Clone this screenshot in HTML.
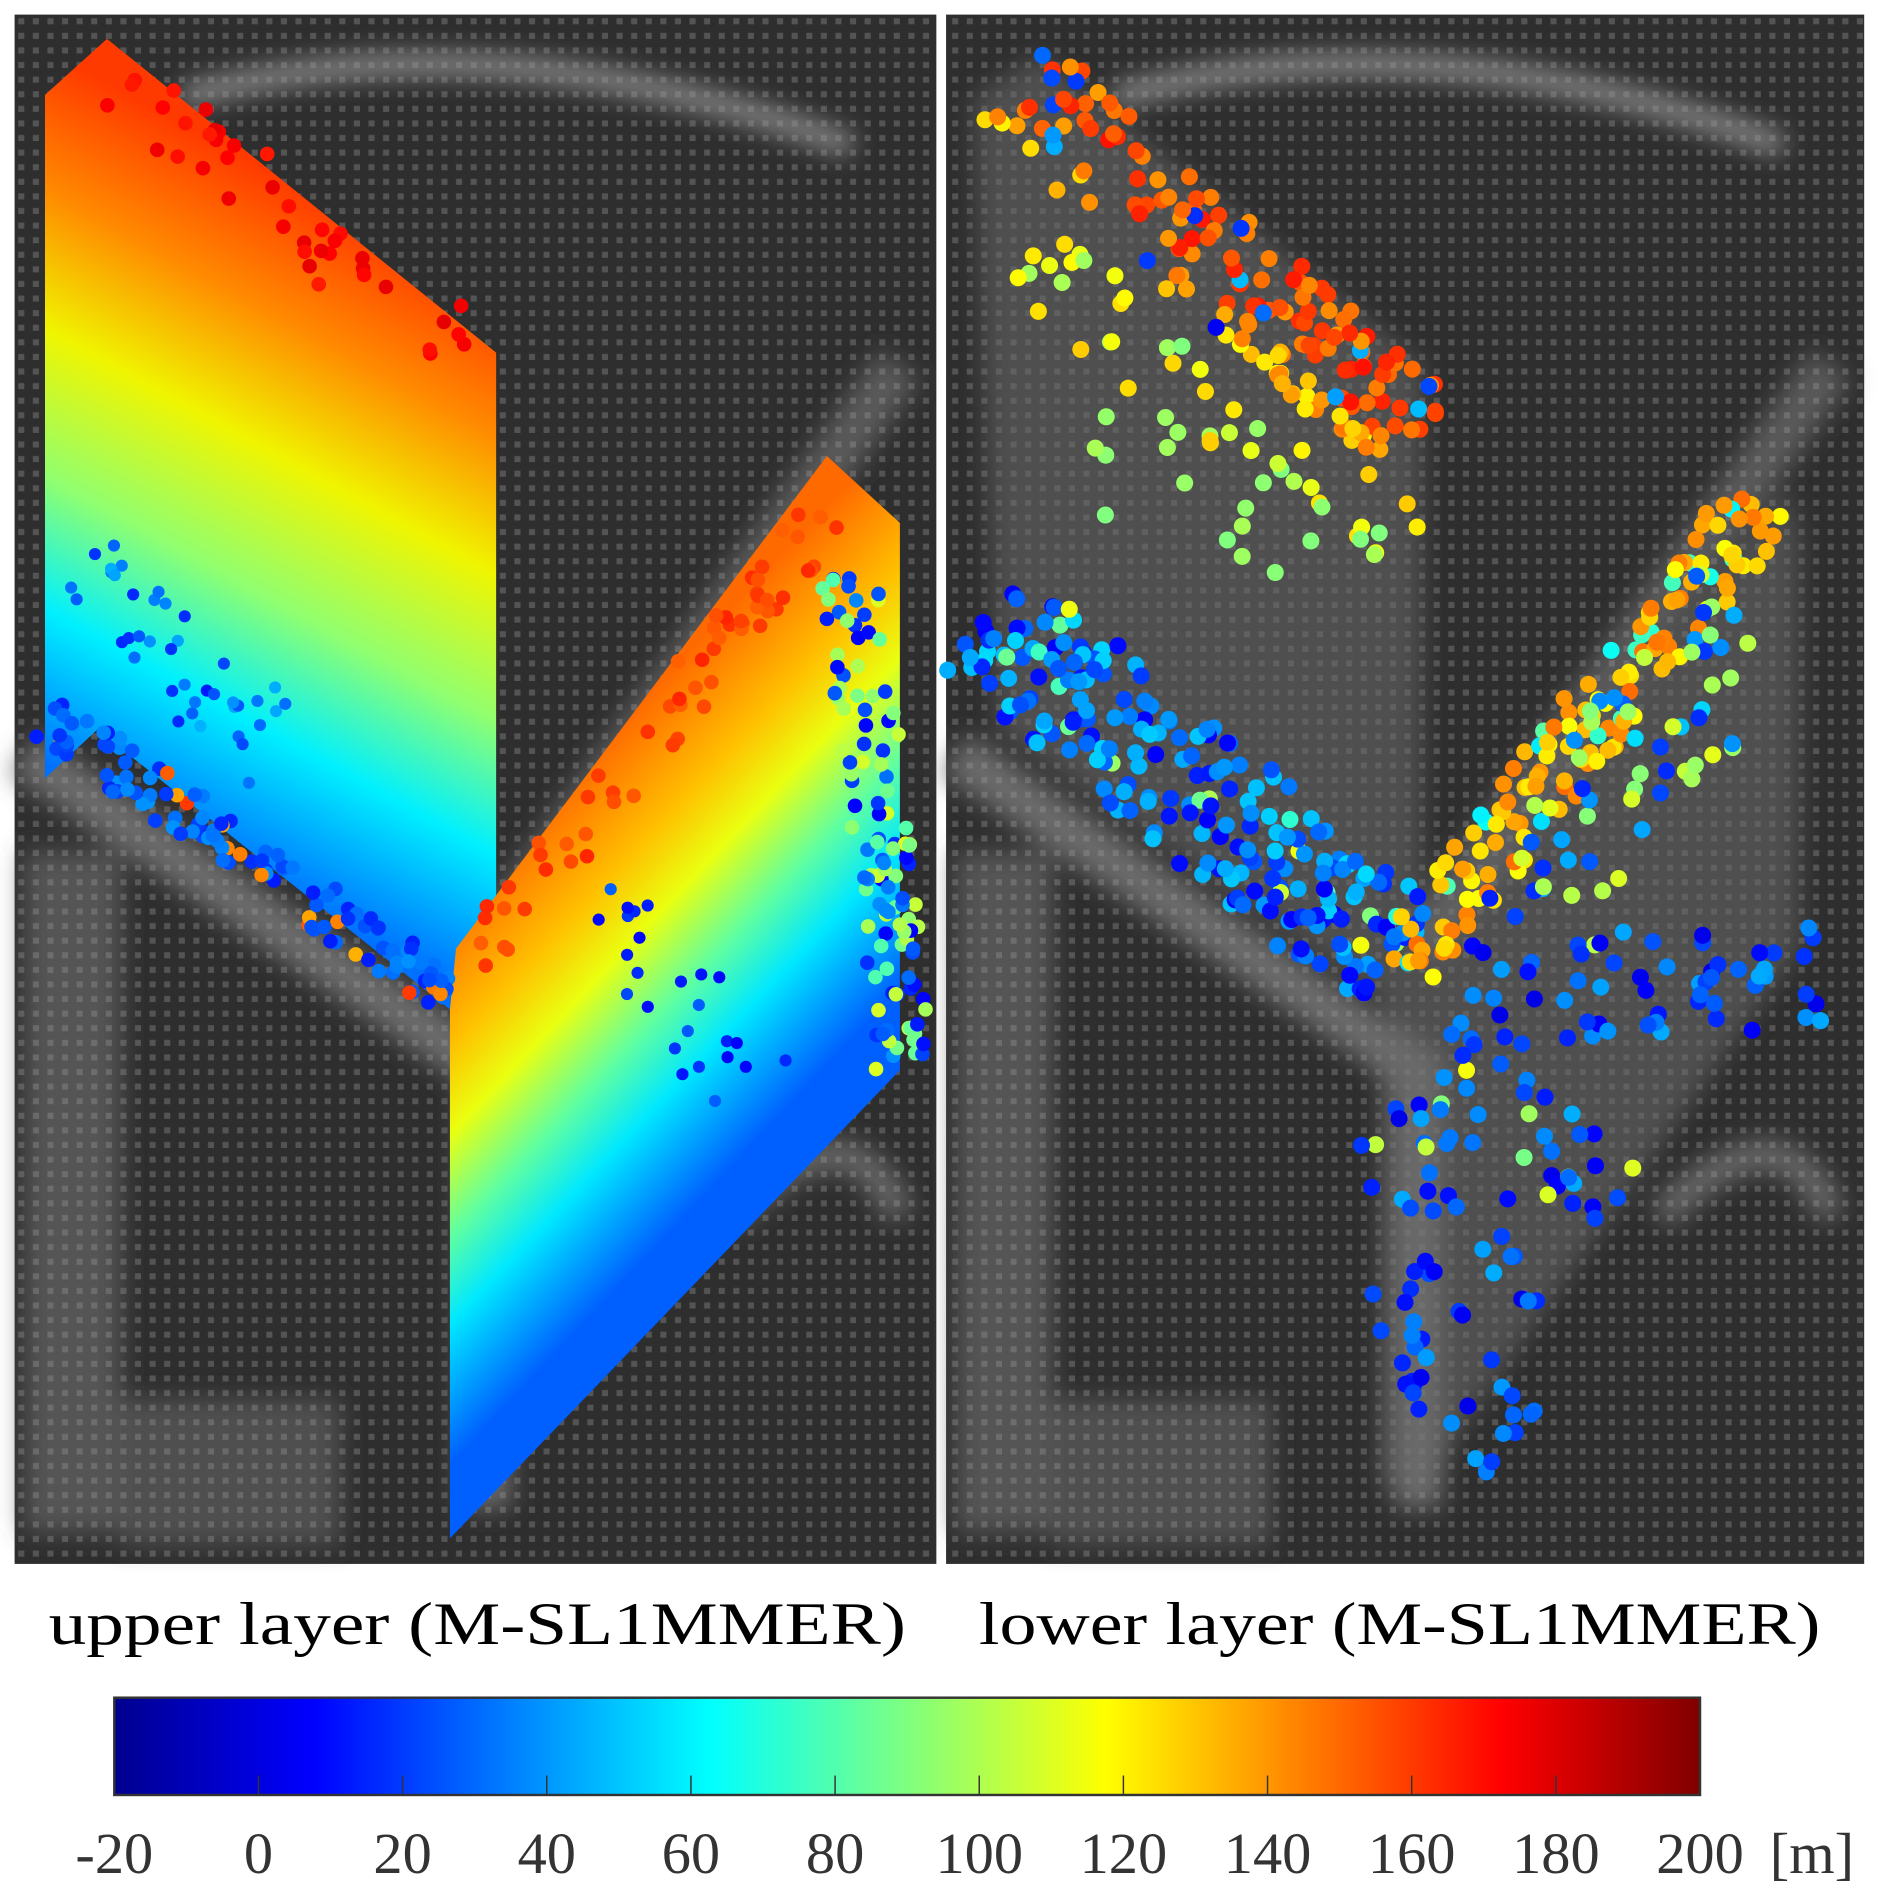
<!DOCTYPE html>
<html><head><meta charset="utf-8"><style>
html,body{margin:0;padding:0;background:#fff;width:1880px;height:1902px;overflow:hidden}
svg{display:block}
</style></head><body>
<svg id="s" width="1880" height="1902" viewBox="0 0 1546 1564" preserveAspectRatio="none" xmlns="http://www.w3.org/2000/svg">
<defs>
<linearGradient id="jet" x1="0" y1="0" x2="1" y2="0">
<stop offset="0" stop-color="#00008f"/><stop offset="0.125" stop-color="#0000ff"/><stop offset="0.375" stop-color="#00ffff"/><stop offset="0.625" stop-color="#ffff00"/><stop offset="0.875" stop-color="#ff0000"/><stop offset="1" stop-color="#800000"/>
</linearGradient>
<linearGradient id="g1" gradientUnits="userSpaceOnUse" x1="220" y1="140" x2="-49" y2="633">
<stop offset="0" stop-color="#ff3a00"/><stop offset="0.18" stop-color="#ff8a00"/><stop offset="0.36" stop-color="#f0f500"/><stop offset="0.55" stop-color="#90ff70"/><stop offset="0.72" stop-color="#00f0ff"/><stop offset="0.92" stop-color="#0070ff"/>
</linearGradient>
<linearGradient id="g2" gradientUnits="userSpaceOnUse" x1="530" y1="575" x2="791" y2="821">
<stop offset="0" stop-color="#ff6a00"/><stop offset="0.22" stop-color="#ffc000"/><stop offset="0.36" stop-color="#eaff10"/><stop offset="0.52" stop-color="#60ffa0"/><stop offset="0.66" stop-color="#00e8ff"/><stop offset="0.88" stop-color="#0060ff"/>
</linearGradient>
<filter id="bl"><feGaussianBlur stdDeviation="10"/></filter>
<pattern id="px" width="12" height="12" patternUnits="userSpaceOnUse"><rect width="12" height="12" fill="none"/><rect x="3" y="3" width="5" height="5" fill="#9a9a9a" opacity="0.35"/></pattern>
</defs>
<rect width="1546" height="1564" fill="#fff"/>
<g id="panels"></g>
<polygon points="37,78 88,32 408,290 408,800 370,830 80,600 37,640" fill="url(#g1)"/>
<polygon points="680,375 740,430 740,880 370,1265 370,830 375,780" fill="url(#g2)"/>
<g id="dots"></g>
<text x="40" y="1352" font-family="Liberation Serif, serif" font-size="50" textLength="705" lengthAdjust="spacingAndGlyphs" fill="#000">upper layer (M-SL1MMER)</text>
<text x="805" y="1352" font-family="Liberation Serif, serif" font-size="50" textLength="692" lengthAdjust="spacingAndGlyphs" fill="#000">lower layer (M-SL1MMER)</text>
<rect x="94" y="1396" width="1304" height="80" fill="url(#jet)" stroke="#333" stroke-width="2"/>
<g id="ticks" stroke="#333" stroke-width="1.2"></g>
<g font-family="Liberation Serif, serif" font-size="48" fill="#333" text-anchor="middle" id="tl"></g>
<text x="1490" y="1540" font-family="Liberation Serif, serif" font-size="48" fill="#333" text-anchor="middle">[m]</text>
</svg>
<script>
var NS="http://www.w3.org/2000/svg";
function el(t,a,p){var e=document.createElementNS(NS,t);for(var k in a)e.setAttribute(k,a[k]);p.appendChild(e);return e;}
var seed=7;function r(){seed=(seed*16807)%2147483647;return seed/2147483647;}
function jet(v){v=Math.max(0,Math.min(1,v));function c(x){return Math.round(255*Math.max(0,Math.min(1,x)));}
return "rgb("+c(1.5-Math.abs(4*v-3))+","+c(1.5-Math.abs(4*v-2))+","+c(1.5-Math.abs(4*v-1))+")";}
var P=document.getElementById("panels");
[[12,770],[778,1533]].forEach(function(b,i){
 el("rect",{x:b[0],y:12,width:b[1]-b[0],height:1274,fill:"#2e2e2e"},P);
 var g=el("g",{filter:"url(#bl)"},P);
 var off=b[0]-12;
 el("path",{d:"M"+(150+off)+",80 Q"+(400+off)+",10 "+(700+off)+",120",stroke:"#8a8a8a","stroke-width":18,fill:"none"},g);
 el("path",{d:"M"+(20+off)+",620 L"+(400+off)+",880 L"+(400+off)+",1240",stroke:"#6a6a6a","stroke-width":40,fill:"none"},g);
 el("path",{d:"M"+(740+off)+",300 L"+(400+off)+",780",stroke:"#5a5a5a","stroke-width":40,fill:"none"},g);
 el("rect",{x:20+off,y:700,width:80,height:560,fill:"#555"},g);
 el("rect",{x:100+off,y:1150,width:180,height:120,fill:"#505050"},g);
 el("path",{d:"M"+(600+off)+",1000 Q"+(700+off)+",900 "+(740+off)+",1000",stroke:"#666","stroke-width":25,fill:"none"},g);
 el("rect",{x:b[0],y:12,width:b[1]-b[0],height:1274,fill:"url(#px)"},P);
 if(i==1){
  el("polygon",{points:"800,80 855,45 1170,300 1170,760 1140,800 1470,400 1480,440 1480,780 1170,1220 1135,1220 1135,820 820,600",fill:"#6a6a6a",opacity:0.55,filter:"url(#bl)"},P);
 }
});
var D=document.getElementById("dots");
function band(x0,y0,x1,y1,w,n,cf,rad){for(var i=0;i<n;i++){var t=r(),s=(r()-0.5)*w;var dx=x1-x0,dy=y1-y0,L=Math.hypot(dx,dy);
 var x=x0+dx*t-dy/L*s,y=y0+dy*t+dx/L*s;el("circle",{cx:x.toFixed(1),cy:y.toFixed(1),r:rad||7,fill:jet(cf(t,s))},D);}}
// right panel
band(835,70,1165,360,90,170,function(t,s){return 0.72+0.14*r()-(s>20?0.1:0)+(r()<0.1?-0.55:0);});
band(830,200,1160,460,70,40,function(){return 0.6+0.08*r()+(r()<0.3?-0.1:0);});
band(810,510,1150,790,110,230,function(){return 0.12+0.22*r()+(r()<0.05?0.3:0);});
band(1450,410,1150,800,60,150,function(){return 0.62+0.15*r()+(r()<0.15?-0.3:0);});
band(1440,500,1250,760,120,60,function(){return r()<0.5?0.5+0.1*r():0.15+0.2*r();});
band(1200,820,1500,800,90,60,function(){return 0.1+0.2*r();});
band(1150,900,1310,1020,150,60,function(){return 0.1+0.2*r()+(r()<0.15?0.35:0);});
band(1140,1050,1240,1200,80,35,function(){return 0.1+0.2*r();});
band(900,360,1150,460,120,20,function(){return 0.5+0.05*r();});
// left panel speckle
band(40,590,370,820,40,120,function(){return 0.15+0.12*r()+(r()<0.1?0.55:0);},6);
band(60,470,230,620,80,40,function(){return 0.15+0.15*r();},5);
band(100,70,380,290,60,40,function(){return 0.85+0.05*r();},6);
band(700,470,745,880,50,120,function(){return r()<0.55?0.12+0.15*r():0.45+0.15*r();},6);
band(390,790,680,420,40,60,function(){return 0.78+0.06*r();},6);
band(500,730,620,900,80,25,function(){return 0.12+0.1*r();},5);
// ticks
var T=document.getElementById("ticks"),TL=document.getElementById("tl");
for(var k=0;k<=11;k++){var x=94+k*1304/11;
 if(k>0&&k<11)el("line",{x1:x,y1:1476,x2:x,y2:1460},T);
 var t=el("text",{x:x,y:1540},TL);t.textContent=String(-20+20*k);}
</script>
</body></html>
